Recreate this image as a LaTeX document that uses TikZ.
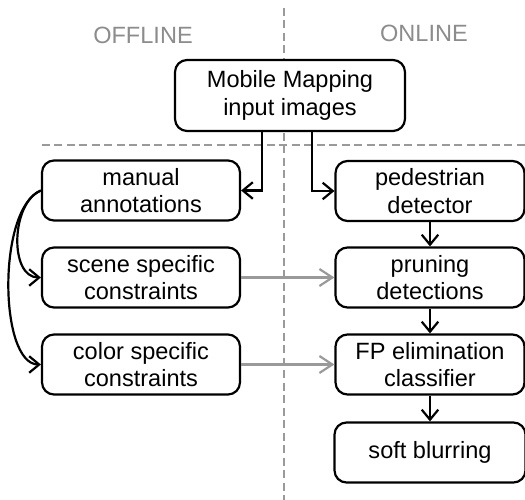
\documentclass[tikz,border=0pt]{standalone}
\usepackage{fontspec}
\setmainfont{Liberation Sans}
\usepackage{tikz}
\usetikzlibrary{arrows.meta}
\definecolor{sepgray}{HTML}{9A9A9A}
\definecolor{labgray}{HTML}{8C8C8C}

\begin{document}
\begin{tikzpicture}[x=0.02cm,y=-0.02cm,>={Straight Barb[length=0.2cm,width=0.33cm]},
  box/.style={draw,line width=1.25pt,rounded corners=0.24cm,align=center,
    minimum width=3.96cm,minimum height=1.2cm,inner sep=1pt,
    font=\fontsize{13.4}{15.6}\selectfont},
  sepline/.style={sepgray,line width=1.1pt,dash pattern=on 0.16cm off 0.09cm},
  flow/.style={->,line width=1.25pt},
  feed/.style={-{Straight Barb[length=0.26cm,width=0.34cm]},sepgray,line width=1.25pt}]
  \useasboundingbox (0,0) rectangle (525,500);
  \draw[sepline] (284,8)--(284,500);
  \draw[sepline] (42,145)--(525,145);
  \node[labgray,font=\fontsize{13.4}{15.6}\selectfont] (off) at (143,35) {OFFLINE};
  \node[labgray,font=\fontsize{13.4}{15.6}\selectfont] (on) at (424,33) {ONLINE};
  \node[box,fill=white,minimum width=4.6cm,minimum height=1.42cm] (mob) at (290,95.5) {Mobile Mapping\\input images};
  \node[box] (man) at (141,190.5) {manual\\annotations};
  \node[box] (scene) at (141,277.5) {scene specific\\constraints};
  \node[box] (color) at (141,364.5) {color specific\\constraints};
  \node[box,minimum width=3.78cm] (ped) at (430,191) {pedestrian\\detector};
  \node[box,minimum width=3.78cm] (prune) at (430,277.5) {pruning\\detections};
  \node[box,minimum width=3.78cm] (fp) at (430,364.5) {FP elimination\\classifier};
  \node[box,minimum width=3.82cm] (blur) at (430,452.5) {soft blurring};
  \draw[flow] (mob.south -| 262,0) |- (man.east);
  \draw[flow] (mob.south -| 312,0) |- (ped.west);
  \draw[flow] (man.west) .. controls +(-30,12) and +(-32,0) .. (scene.west);
  \draw[flow] (man.west) .. controls +(-44,18) and +(-42,0) .. (color.west);
  \draw[feed] (scene.east) -- (prune.west);
  \draw[feed] (color.east) -- (fp.west);
  \foreach \a/\b in {ped/prune,prune/fp,fp/blur}
    \draw[flow] (\a) -- (\b);
\end{tikzpicture}
\end{document}
